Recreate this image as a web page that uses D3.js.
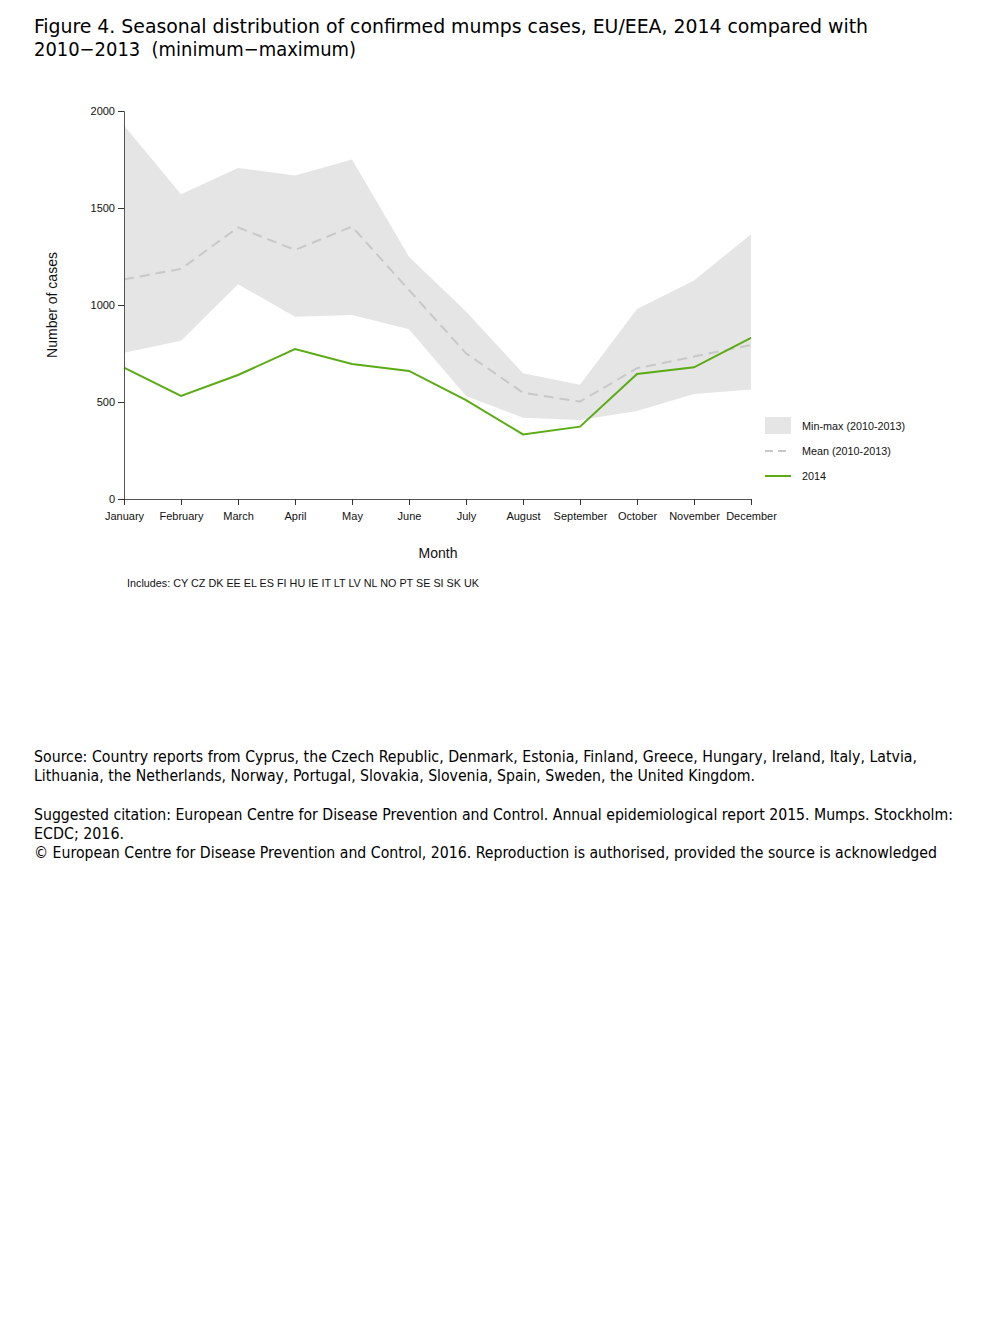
<!DOCTYPE html>
<html><head><meta charset="utf-8">
<script src="https://cdn.jsdelivr.net/npm/d3@7"></script>
<style>body{margin:0;background:#fff} text{white-space:pre}</style>
</head><body>
<svg id="c" width="1008" height="1344"></svg>
<script>
const months = ["January","February","March","April","May","June","July","August","September","October","November","December"];
const maxValues = [1925,1571,1706,1668,1750,1249,966,648,589,980,1126,1365];
const minValues = [754,816,1107,940,948,875,531,419,407,454,541,565];
const meanValues = [1132,1186,1400,1284,1404,1077,751,548,502,674,734,794];
const values2014 = [677,531,639,773,696,660,510,333,373,644,679,831];
const yTicks = [0,500,1000,1500,2000];
const legendLabels = ["Min-max (2010-2013)","Mean (2010-2013)","2014"];
const titleLines = ["Figure 4. Seasonal distribution of confirmed mumps cases, EU/EEA, 2014 compared with","2010\u22122013  (minimum\u2212maximum)"];
const titleWidths = [834, 322];
const noteLines = [
 "Source: Country reports from Cyprus, the Czech Republic, Denmark, Estonia, Finland, Greece, Hungary, Ireland, Italy, Latvia,",
 "Lithuania, the Netherlands, Norway, Portugal, Slovakia, Slovenia, Spain, Sweden, the United Kingdom.",
 "",
 "Suggested citation: European Centre for Disease Prevention and Control. Annual epidemiological report 2015. Mumps. Stockholm:",
 "ECDC; 2016.",
 "\u00a9 European Centre for Disease Prevention and Control, 2016. Reproduction is authorised, provided the source is acknowledged"
];
const noteWidths = [883, 721, 0, 919, 90, 903];
const includesText = "Includes: CY CZ DK EE EL ES FI HU IE IT LT LV NL NO PT SE SI SK UK";

const svg = d3.select("#c");
const titleFont = "'DejaVu Sans Condensed','DejaVu Sans',sans-serif";
const chartFont = "'Liberation Sans',Arial,sans-serif";

// title
svg.append("g").selectAll("text").data(titleLines).join("text")
  .attr("x",34).attr("y",(d,i)=>33+i*23)
  .attr("font-family",titleFont).attr("font-size",20).attr("fill","#000")
  .attr("textLength",(d,i)=>titleWidths[i]).attr("lengthAdjust","spacingAndGlyphs")
  .text(d=>d);

const x = d3.scalePoint().domain(months).range([124,751]);
const y = d3.scaleLinear().domain([0,2000]).range([499,111]);

const data = months.map((m,i)=>({m,max:maxValues[i],min:minValues[i],mean:meanValues[i],v:values2014[i]}));

svg.append("path").datum(data)
  .attr("d",d3.area().x(d=>x(d.m)).y0(d=>y(d.min)).y1(d=>y(d.max)))
  .attr("fill","#e5e5e5");
svg.append("path").datum(data)
  .attr("d",d3.line().x(d=>x(d.m)).y(d=>y(d.mean)))
  .attr("fill","none").attr("stroke","#c8c8c8").attr("stroke-width",2).attr("stroke-dasharray","10,6");
svg.append("path").datum(data)
  .attr("d",d3.line().x(d=>x(d.m)).y(d=>y(d.v)))
  .attr("fill","none").attr("stroke","#5aab14").attr("stroke-width",2);

// axes
const yAxis = svg.append("g").attr("transform","translate(124,0)")
  .call(d3.axisLeft(y).tickValues(yTicks).tickFormat(d3.format("d")).tickSize(6).tickPadding(3));
const xAxis = svg.append("g").attr("transform","translate(0,499)")
  .call(d3.axisBottom(x).tickSize(6).tickPadding(7).tickSizeOuter(0));
[yAxis,xAxis].forEach(a=>{
  a.attr("color","#111");
  a.select(".domain").attr("stroke","#555");
  a.selectAll(".tick line").attr("stroke","#333");
  a.selectAll("text").attr("font-family",chartFont).attr("font-size",11).attr("fill","#111");
});
yAxis.selectAll(".tick text").attr("dy","0.32em");

svg.append("text").attr("transform","translate(57,305) rotate(-90)")
  .attr("text-anchor","middle").attr("font-family",chartFont).attr("font-size",14).attr("fill","#111")
  .text("Number of cases");
svg.append("text").attr("x",438).attr("y",558).attr("text-anchor","middle")
  .attr("font-family",chartFont).attr("font-size",14).attr("fill","#111").text("Month");
svg.append("text").attr("x",127).attr("y",587)
  .attr("font-family",chartFont).attr("font-size",10.8).attr("fill","#111").text(includesText);

// legend
const lg = svg.append("g");
lg.append("rect").attr("x",765).attr("y",417).attr("width",26).attr("height",17).attr("fill","#e5e5e5");
lg.append("line").attr("x1",765).attr("x2",791).attr("y1",451).attr("y2",451)
  .attr("stroke","#c8c8c8").attr("stroke-width",2).attr("stroke-dasharray","8,5");
lg.append("line").attr("x1",765).attr("x2",791).attr("y1",476).attr("y2",476)
  .attr("stroke","#5aab14").attr("stroke-width",2);
lg.selectAll("text").data(legendLabels).join("text")
  .attr("x",802).attr("y",(d,i)=>429.5+i*25)
  .attr("font-family",chartFont).attr("font-size",10.8).attr("fill","#111").text(d=>d);

// notes
svg.append("g").selectAll("text").data(noteLines).join("text")
  .attr("x",34).attr("y",(d,i)=>762+i*19.2)
  .attr("font-family",titleFont).attr("font-size",15.5).attr("fill","#000")
  .each(function(d,i){ if(noteWidths[i]>0) d3.select(this).attr("textLength",noteWidths[i]).attr("lengthAdjust","spacingAndGlyphs"); })
  .text(d=>d);
</script>
</body></html>
